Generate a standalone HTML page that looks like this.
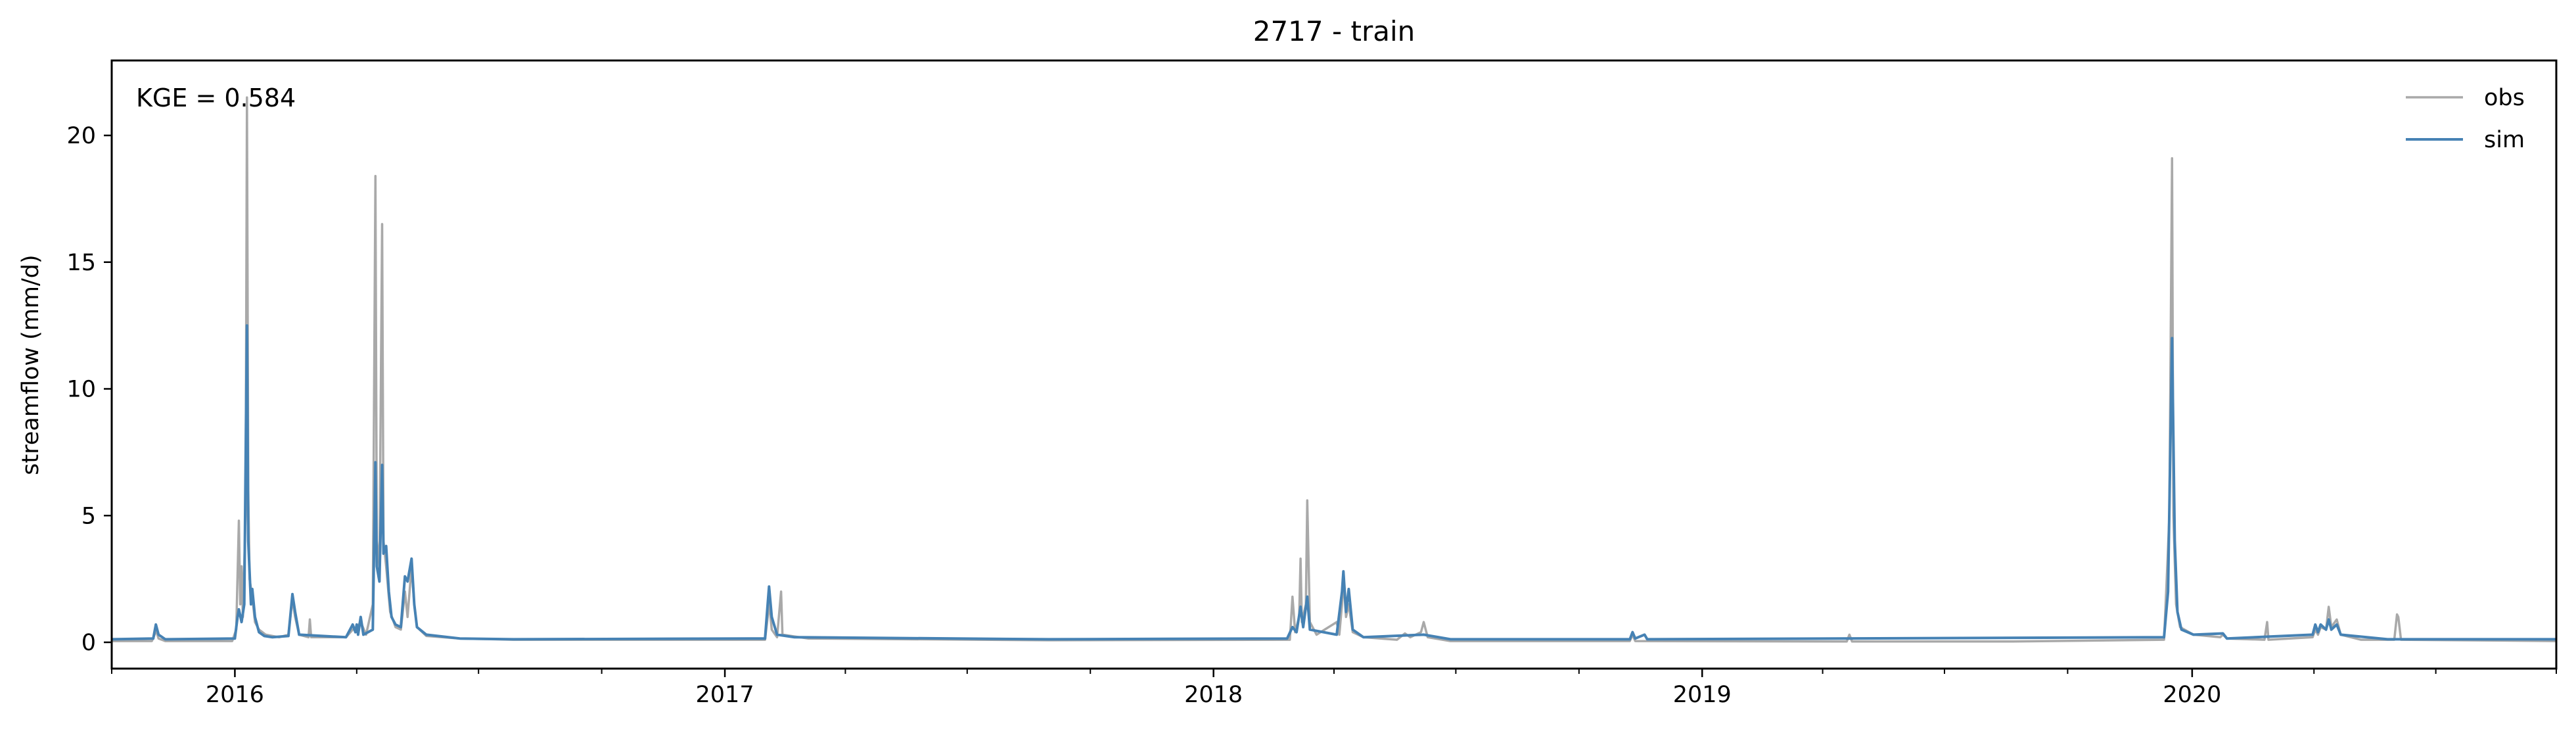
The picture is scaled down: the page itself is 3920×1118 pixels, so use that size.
<!DOCTYPE html>
<html><head><meta charset="utf-8"><style>
html,body{margin:0;padding:0;background:#fff;}
svg{display:block;font-family:"DejaVu Sans","Liberation Sans",sans-serif;}
</style></head><body>
<svg id="chart" width="3920" height="1118" viewBox="0 0 3920 1118" xmlns="http://www.w3.org/2000/svg">
<rect width="3920" height="1118" fill="#fff"/>
<text x="2030" y="62" font-size="42" text-anchor="middle">2717 - train</text>
<text transform="translate(58,555) rotate(-90)" font-size="35" text-anchor="middle">streamflow (mm/d)</text>
<g id="plot"></g>
<g id="axes"></g>
<rect x="170" y="92" width="3720" height="925" fill="none" stroke="#000" stroke-width="3"/>
<text x="207" y="162" font-size="38">KGE = 0.584</text>
<g>
<line x1="3661" y1="148" x2="3748" y2="148" stroke="#a9a9a9" stroke-width="3.5"/>
<text x="3780" y="160" font-size="35">obs</text>
<line x1="3661" y1="212" x2="3748" y2="212" stroke="#4682b4" stroke-width="4"/>
<text x="3780" y="224" font-size="35">sim</text>
</g>
</svg>
<script>
const obsDays=[0,30,32,33,35,40,90,93,95,96,97,98,100,101,102,103,105,107,110,115,125,132,135,137,140,147,148,149,175,180,183,186,190,195,197,198,200,202,203,205,208,212,216,219,221,224,226,228,235,260,300,400,488,490,491,493,497,500,501,520,700,880,882,884,887,888,889,892,893,895,900,915,917,919,920,922,924,927,935,960,966,970,978,980,983,1000,1134,1136,1138,1296,1298,1300,1420,1533,1535,1537,1539,1540,1542,1545,1555,1575,1577,1580,1608,1610,1611,1644,1646,1648,1650,1654,1656,1658,1662,1665,1680,1705,1707,1708,1710,1826];
const obsVals=[0.05,0.05,0.3,0.5,0.15,0.05,0.05,0.5,4.8,1.5,3.0,1.0,5,21.5,6,2.5,1.8,0.8,0.5,0.3,0.2,0.3,1.7,1.0,0.3,0.2,0.9,0.2,0.2,0.5,0.6,0.8,0.3,1.5,18.4,4,3,16.5,4,3.0,1.2,0.6,0.5,2.0,1.0,3.0,1.5,0.6,0.25,0.15,0.1,0.1,0.1,1.0,1.6,0.5,0.2,2.0,0.3,0.15,0.08,0.1,1.8,0.4,1.0,3.3,0.8,1.5,5.6,0.8,0.3,0.8,0.3,1.5,2.5,1.0,1.5,0.4,0.2,0.1,0.35,0.2,0.4,0.8,0.2,0.05,0.05,0.3,0.05,0.03,0.3,0.03,0.03,0.1,2.5,5,19.1,5,1.5,0.6,0.3,0.2,0.3,0.15,0.1,0.8,0.1,0.2,0.5,0.3,0.6,0.5,1.4,0.6,0.9,0.3,0.1,0.1,1.1,1.0,0.1,0.05];
const simDays=[0,31,33,35,40,92,94,95,97,99,101,102,104,105,107,110,114,120,132,135,137,140,175,180,182,183,184,186,188,195,197,198,200,202,203,205,207,209,212,216,219,221,224,226,228,235,260,300,488,490,491,493,497,510,700,878,882,885,888,890,893,895,915,919,920,922,924,927,935,980,1000,1134,1136,1138,1145,1147,1533,1536,1539,1541,1543,1546,1555,1577,1580,1644,1646,1648,1650,1654,1656,1658,1662,1665,1700,1826];
const simVals=[0.12,0.15,0.7,0.3,0.12,0.15,1.0,1.3,0.8,1.5,12.5,4,1.5,2.1,1.0,0.4,0.25,0.2,0.25,1.9,1.2,0.3,0.2,0.7,0.4,0.7,0.3,1.0,0.3,0.5,7.1,3.0,2.4,7.0,3.5,3.8,2.0,1.0,0.7,0.6,2.6,2.4,3.3,1.5,0.6,0.3,0.15,0.12,0.15,1.5,2.2,1.0,0.3,0.2,0.12,0.15,0.6,0.4,1.4,0.6,1.8,0.5,0.3,2.0,2.8,1.2,2.1,0.5,0.2,0.3,0.12,0.12,0.4,0.15,0.3,0.12,0.2,2.0,12.0,4.0,1.2,0.5,0.3,0.35,0.15,0.3,0.7,0.4,0.7,0.5,0.9,0.5,0.7,0.3,0.12,0.12];
const yTicks=[0,5,10,15,20];
const yearLabels=["2016","2017","2018","2019","2020"];
const yearDays=[92,458,823,1188,1554];
const quarterDays=[0,92,183,274,366,458,548,639,731,823,913,1004,1096,1188,1278,1369,1461,1554,1645,1736,1826];

const NS="http://www.w3.org/2000/svg";
const X0=170,X1=3890,DAYS=1826,Y0=977,PXU=38.55;
function xs(d){return X0+d*(X1-X0)/DAYS;}
function ys(v){return Y0-v*PXU;}
const plot=document.getElementById('plot'),axes=document.getElementById('axes');
function mk(tag,attrs,parent){const e=document.createElementNS(NS,tag);for(const k in attrs)e.setAttribute(k,attrs[k]);parent.appendChild(e);return e;}
function series(days,vals,color,w,name){
  const pts=days.map((d,i)=>xs(d).toFixed(1)+','+ys(vals[i]).toFixed(1)).join(' ');
  const p=mk('polyline',{points:pts,fill:'none',stroke:color,'stroke-width':w,'stroke-linejoin':'round'},plot);
  
  
}
series(obsDays,obsVals,'#a9a9a9',3.5,'obs-line');
series(simDays,simVals,'#4682b4',4,'sim-line');
yTicks.forEach(v=>{
  const l=mk('line',{x1:158,x2:170,y1:ys(v),y2:ys(v),stroke:'#000','stroke-width':2.5},axes);
  
  
  const t=mk('text',{x:146,y:ys(v)+12,'font-size':35,'text-anchor':'end'},axes);
  t.textContent=v;
  
  
});
quarterDays.forEach(d=>{
  const l=mk('line',{x1:xs(d),x2:xs(d),y1:1017,y2:1025,stroke:'#000','stroke-width':2},axes);
  
  
});
yearDays.forEach((d,i)=>{
  const l=mk('line',{x1:xs(d),x2:xs(d),y1:1017,y2:1030,stroke:'#000','stroke-width':2.5},axes);
  
  
  const t=mk('text',{x:xs(d),y:1068,'font-size':35,'text-anchor':'middle'},axes);
  t.textContent=yearLabels[i];
  
  
});
</script>
</body></html>
